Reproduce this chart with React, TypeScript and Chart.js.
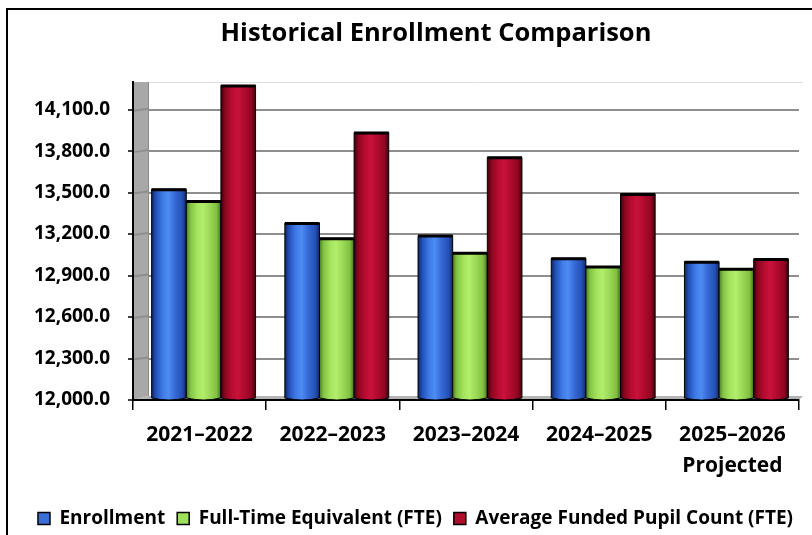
import React, { useEffect, useRef } from 'react';
import { Chart, registerables } from 'chart.js';

Chart.register(...registerables);

const TITLE = 'Historical Enrollment Comparison';
const categories: (string | string[])[] = ['2021–2022', '2022–2023', '2023–2024', '2024–2025', ['2025–2026', 'Projected']];
const seriesNames = ['Enrollment', 'Full-Time Equivalent (FTE)', 'Average Funded Pupil Count (FTE)'];
const enrollment = [13525, 13280, 13190, 13025, 13000];
const fte = [13440, 13170, 13065, 12965, 12950];
const fundedCount = [14275, 13935, 13755, 13490, 13020];
const yMin = 12000;
const yMax = 14300;
const yStep = 300;

const solidColors = ['#3a6fd8', '#9ee05a', '#b00d2c'];
const gradientStops = [
  ['#0f2560', '#2250b8', '#3f7be6', '#4d8cf2', '#3568d4', '#2451b4', '#10286a'],
  ['#4c7e22', '#84c444', '#a4e45e', '#b2ee6a', '#9ad856', '#80c040', '#446f1c'],
  ['#3e000a', '#8c0620', '#b80c30', '#c8123c', '#b00a2e', '#900622', '#40000c'],
];
const stopPos = [0, 0.12, 0.32, 0.48, 0.68, 0.88, 1];

const FONT = '"Open Sans"';
const PAD_LEFT = 19;
const AXIS_LEFT = 133;

const decorPlugin = {
  id: 'decor',
  beforeDraw(chart: any) {
    const { ctx, width, height } = chart;
    ctx.save();
    ctx.fillStyle = '#ffffff';
    ctx.fillRect(0, 0, width, height);
    ctx.strokeStyle = '#000';
    ctx.lineWidth = 2;
    ctx.strokeRect(7, 9, width + 20, height + 20);
    ctx.font = `bold 25.5px ${FONT}`;
    ctx.fillStyle = '#000';
    ctx.textAlign = 'center';
    ctx.textBaseline = 'middle';
    ctx.fillText(TITLE, 436, 34);
    ctx.restore();
  },
  beforeDatasetsDraw(chart: any) {
    const { ctx, chartArea: a, scales } = chart;
    const y = scales.y;
    const depth = 15;
    const rise = 4;
    const dx = 4;
    ctx.save();
    // back wall top edge
    ctx.strokeStyle = '#dedede';
    ctx.lineWidth = 1;
    ctx.beginPath();
    ctx.moveTo(a.left + depth, a.top + 0.5);
    ctx.lineTo(a.right + 4, a.top + 0.5);
    ctx.stroke();
    // side wall
    ctx.fillStyle = '#a8a8a8';
    ctx.beginPath();
    ctx.moveTo(a.left, a.top);
    ctx.lineTo(a.left + depth, a.top);
    ctx.lineTo(a.left + depth, a.bottom - rise);
    ctx.lineTo(a.left, a.bottom);
    ctx.closePath();
    ctx.fill();
    ctx.strokeStyle = '#8a8a8a';
    ctx.lineWidth = 1;
    ctx.beginPath();
    ctx.moveTo(a.left + depth + 0.5, a.top);
    ctx.lineTo(a.left + depth + 0.5, a.bottom - rise);
    ctx.stroke();
    ctx.strokeStyle = '#8e8e8e';
    ctx.lineWidth = 2;
    y.ticks.forEach((t: any) => {
      const py = y.getPixelForValue(t.value);
      if (t.value === yMin) return;
      ctx.beginPath();
      ctx.moveTo(a.left, py + 1);
      ctx.lineTo(a.left + depth, py - 1);
      ctx.stroke();
    });
    // floor
    ctx.fillStyle = '#b4b4b4';
    ctx.beginPath();
    ctx.moveTo(a.left, a.bottom);
    ctx.lineTo(a.left + depth, a.bottom - rise);
    ctx.lineTo(a.right + 4, a.bottom - rise);
    ctx.lineTo(a.right, a.bottom);
    ctx.closePath();
    ctx.fill();
    // axis lines
    ctx.strokeStyle = '#000';
    ctx.lineWidth = 2;
    ctx.beginPath();
    ctx.moveTo(a.left, a.top);
    ctx.lineTo(a.left, a.bottom);
    ctx.lineTo(a.right, a.bottom);
    ctx.stroke();

    // bars
    chart.data.datasets.forEach((ds: any, di: number) => {
      const meta = chart.getDatasetMeta(di);
      meta.data.forEach((el: any) => {
        const p = el.getProps(['x', 'y', 'base', 'width'], true);
        const left = p.x - p.width / 2 + dx;
        const right = p.x + p.width / 2 + dx;
        const top = p.y;
        const bottom = Math.min(p.base, a.bottom);
        const g = ctx.createLinearGradient(left, 0, right, 0);
        gradientStops[di].forEach((c, i) => g.addColorStop(stopPos[i], c));
        ctx.fillStyle = g;
        ctx.beginPath();
        ctx.moveTo(left, top);
        ctx.lineTo(right, top);
        ctx.lineTo(right, bottom - 2);
        ctx.quadraticCurveTo(p.x + dx, bottom + 2, left, bottom - 2);
        ctx.closePath();
        ctx.fill();
        ctx.strokeStyle = '#000';
        ctx.lineWidth = 1;
        ctx.stroke();
        ctx.lineWidth = 3;
        ctx.beginPath();
        ctx.moveTo(left, top + 0.5);
        ctx.lineTo(right, top + 0.5);
        ctx.stroke();
      });
    });
    ctx.restore();
    return false;
  },
};

export default function App() {
  const ref = useRef<HTMLCanvasElement | null>(null);
  useEffect(() => {
    if (!ref.current) return;
    const data = [enrollment, fte, fundedCount];
    const chart = new Chart(ref.current, {
      type: 'bar',
      data: {
        labels: categories,
        datasets: data.map((d, i) => ({
          label: seriesNames[i],
          data: d,
          backgroundColor: solidColors[i],
          borderColor: '#000',
          borderWidth: 1.5,
          categoryPercentage: 0.78,
          barPercentage: 1.0,
        })),
      },
      options: {
        responsive: false,
        animation: false,
        devicePixelRatio: 1,
        layout: { padding: { top: 82, left: PAD_LEFT, right: 0, bottom: -3 } },
        plugins: {
          title: { display: false },
          tooltip: { enabled: false },
          legend: {
            position: 'bottom',
            labels: {
              font: { family: FONT, weight: 'bold', size: 19 },
              color: '#000',
              boxWidth: 12,
              boxHeight: 12,
              padding: 12,
            },
          },
        },
        scales: {
          x: {
            grid: { drawOnChartArea: false, drawTicks: true, tickLength: 10, color: '#000', offset: true, lineWidth: 1.5 },
            border: { color: '#000', width: 2 },
            ticks: {
              font: { family: FONT, weight: 'bold', size: 21, lineHeight: 1.48 },
              color: '#000',
              padding: 9,
              maxRotation: 0,
              autoSkip: false,
            },
            afterFit: (s: any) => {
              s.height = 97;
            },
          },
          y: {
            min: yMin,
            max: yMax,
            ticks: {
              stepSize: yStep,
              includeBounds: false,
              font: { family: FONT, weight: 'bold', size: 19 },
              color: '#000',
              padding: 18,
              callback: (v: any) =>
                Number(v).toLocaleString('en-US', { minimumFractionDigits: 1, maximumFractionDigits: 1 }),
            },
            grid: { color: '#8e8e8e', lineWidth: 2, tickColor: '#000', tickLength: 5, tickWidth: 1.5 },
            border: { color: '#000', width: 2 },
            afterFit: (s: any) => {
              s.width = AXIS_LEFT - PAD_LEFT;
            },
          },
          yRight: {
            type: 'linear',
            position: 'right',
            display: true,
            grid: { display: false, drawTicks: false },
            border: { display: false },
            ticks: { display: false },
            afterFit: (s: any) => {
              s.width = 13;
            },
          },
        },
      },
      plugins: [decorPlugin],
    } as any);
    return () => chart.destroy();
  }, []);
  return (
    <div style={{ position: 'absolute', left: 0, top: 0, width: 812, height: 535 }}>
      <canvas ref={ref} width={812} height={535} style={{ width: 812, height: 535, display: 'block' }} />
    </div>
  );
}
